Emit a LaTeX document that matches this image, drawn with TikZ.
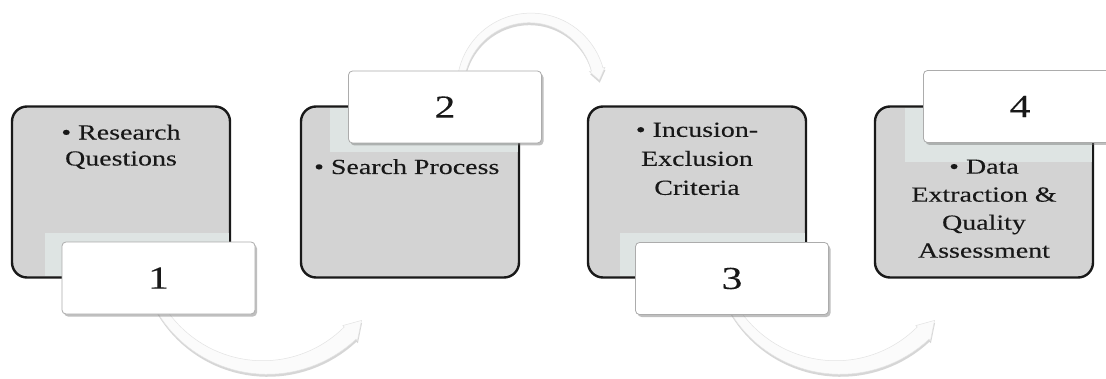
\documentclass[tikz,border=0pt]{standalone}
\usepackage{fontspec}
\setmainfont{Liberation Serif}[FakeStretch=1.3, FakeBold=0.2]
\usetikzlibrary{shadows}
\definecolor{boxgray}{HTML}{D3D3D3}
\definecolor{stripc}{HTML}{DEE4E3}
\definecolor{txt}{HTML}{181818}
\tikzset{
  stepbox/.style={rectangle, draw=black!90, line width=2.4pt, fill=boxgray,
    rounded corners=15pt, minimum width=218pt, minimum height=171pt, inner sep=0pt},
  numlabel/.style={rectangle, draw=gray!65, line width=0.8pt, fill=white,
    rounded corners=4pt, minimum width=193pt, minimum height=72pt, inner sep=0pt,
    font=\fontsize{32}{36}\selectfont, text=txt,
    drop shadow={shadow xshift=2pt, shadow yshift=-2.5pt, fill=black!55, opacity=.45}},
  glowstrip/.style={fill=stripc, draw=none},
  boxtext/.style={inner sep=0pt, align=center, text=txt},
  arrowband/.style={fill=gray!3, draw=gray!22, line width=0.5pt,
    drop shadow={shadow xshift=0.5pt, shadow yshift=-2.5pt, fill=black!45, opacity=.35}},
}
% curved tapering arrow: cx, cy, R, a0, ah, at, w0, w1, hw
\newcommand\bentarrow[9]{%
  \path[arrowband]
    plot[domain=0:1, samples=40, variable=\t]
      ({#1+(#3+#7+(#8-#7)*\t)*cos(#4+(#5-#4)*\t)},{#2+(#3+#7+(#8-#7)*\t)*sin(#4+(#5-#4)*\t)})
    -- ({#1+(#3+#9)*cos(#5)},{#2+(#3+#9)*sin(#5)})
    -- ({#1+#3*cos(#6)},{#2+#3*sin(#6)})
    -- ({#1+(#3-#9)*cos(#5)},{#2+(#3-#9)*sin(#5)})
    -- plot[domain=0:1, samples=40, variable=\t]
      ({#1+(#3-#8-(#7-#8)*\t)*cos(#5+(#4-#5)*\t)},{#2+(#3-#8-(#7-#8)*\t)*sin(#5+(#4-#5)*\t)})
    -- cycle;}
\begin{document}
\begin{tikzpicture}[x=1pt,y=1pt]
\useasboundingbox (0,0) rectangle (1106,378);
\clip (0,0) rectangle (1106,378);
\fill[white] (0,0) rectangle (1106,378);

% step boxes
\node[stepbox] (b1) at (121,186) {};
\node[stepbox] (b2) at (410,186) {};
\node[stepbox] (b3) at (697,186) {};
\node[stepbox] (b4) at (984,186) {};

% pale glow strips behind the number labels
\fill[glowstrip] (45,101.7) rectangle (228.8,145);
\fill[glowstrip] (330,226) rectangle (517.8,270.3);
\fill[glowstrip] (620,101.7) rectangle (804.8,145);
\fill[glowstrip] (905,216) rectangle (1091.8,270.3);

% box texts
\node[boxtext, anchor=north, font=\fontsize{21.5}{26}\selectfont] (t1) at (121,253.6)
  {• Research\\Questions};
\node[boxtext, anchor=base west, font=\fontsize{21.5}{26}\selectfont] (t2) at (314,204)
  {• Search Process};
\node[boxtext, anchor=north, font=\fontsize{21.5}{29}\selectfont] (t3) at (697,255.6)
  {• Incusion-\\Exclusion\\Criteria};
\node[boxtext, anchor=north, font=\fontsize{21.5}{28}\selectfont] (t4) at (984,218.6)
  {• Data\\Extraction \&\\Quality\\Assessment};

% curved arrows
\bentarrow{265}{133}{122.5}{200}{314}{322}{4}{8.5}{10.5}
\bentarrow{530}{290.5}{69.6}{172}{15}{6}{3.5}{6}{8}
\bentarrow{838}{133}{122.5}{200}{314}{322}{4}{8.5}{10.5}

% number labels
\node[numlabel] (l1) at (158.5,100) {1};
\node[numlabel] (l2) at (445,271) {2};
\node[numlabel] (l3) at (732,99.5) {3};
\node[numlabel] (l4) at (1020,271.5) {4};
\end{tikzpicture}
\end{document}
